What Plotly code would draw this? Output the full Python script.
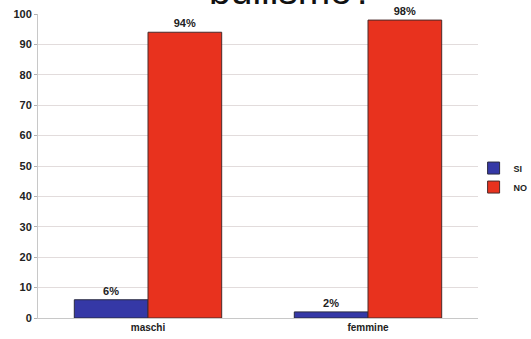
import plotly.graph_objects as go

categories = ["maschi", "femmine"]
si_values = [6, 2]
no_values = [94, 98]
y_ticks = [0, 10, 20, 30, 40, 50, 60, 70, 80, 90, 100]

font_family = "Liberation Sans, Arial, sans-serif"

fig = go.Figure()
fig.add_trace(go.Bar(
    x=categories, y=si_values, name="<b>SI</b>",
    marker=dict(color="#3538a6", line=dict(color="#2a2a40", width=1)),
    text=[f"<b>{v}%</b>" for v in si_values], textposition="outside",
    textfont=dict(size=11, color="#222222", family=font_family),
    cliponaxis=False,
))
fig.add_trace(go.Bar(
    x=categories, y=no_values, name="<b>NO</b>",
    marker=dict(color="#e8321e", line=dict(color="#4a2a2a", width=1)),
    text=[f"<b>{v}%</b>" for v in no_values], textposition="outside",
    textfont=dict(size=11, color="#222222", family=font_family),
    cliponaxis=False,
))

fig.add_annotation(
    text="bullismo?", xref="paper", yref="paper", x=0.577, y=1,
    xanchor="center", yanchor="bottom", yshift=0, showarrow=False,
    font=dict(size=39, color="#111111", family=font_family),
)

fig.update_layout(
    width=531, height=339,
    margin=dict(l=38, r=53, t=14, b=21, autoexpand=False),
    paper_bgcolor="white", plot_bgcolor="white",
    barmode="group", bargap=0.33, bargroupgap=0,
    showlegend=True,
    legend=dict(
        x=0.99, y=0.462, xanchor="left", yanchor="middle",
        font=dict(size=9, color="#222222", family=font_family),
        itemwidth=30, tracegroupgap=0, bgcolor="rgba(0,0,0,0)",
    ),
    font=dict(family=font_family, color="#222222"),
)
fig.update_yaxes(
    range=[0, 100], tickvals=y_ticks,
    ticktext=[f"<b>{v}</b>" for v in y_ticks],
    showgrid=True, gridcolor="#e2dcdc", gridwidth=1,
    showline=True, linecolor="#c8c8c8", linewidth=1,
    ticks="outside", ticklen=3, tickcolor="#b0b0b0",
    tickfont=dict(size=11, color="#222222", family=font_family),
    zeroline=False,
)
fig.update_xaxes(
    showline=True, linecolor="#c8c8c8", linewidth=1,
    ticks="", tickvals=categories,
    ticktext=[f"<b>{c}</b>" for c in categories],
    tickfont=dict(size=10, color="#222222", family=font_family),
)

fig.write_html("out.html")
